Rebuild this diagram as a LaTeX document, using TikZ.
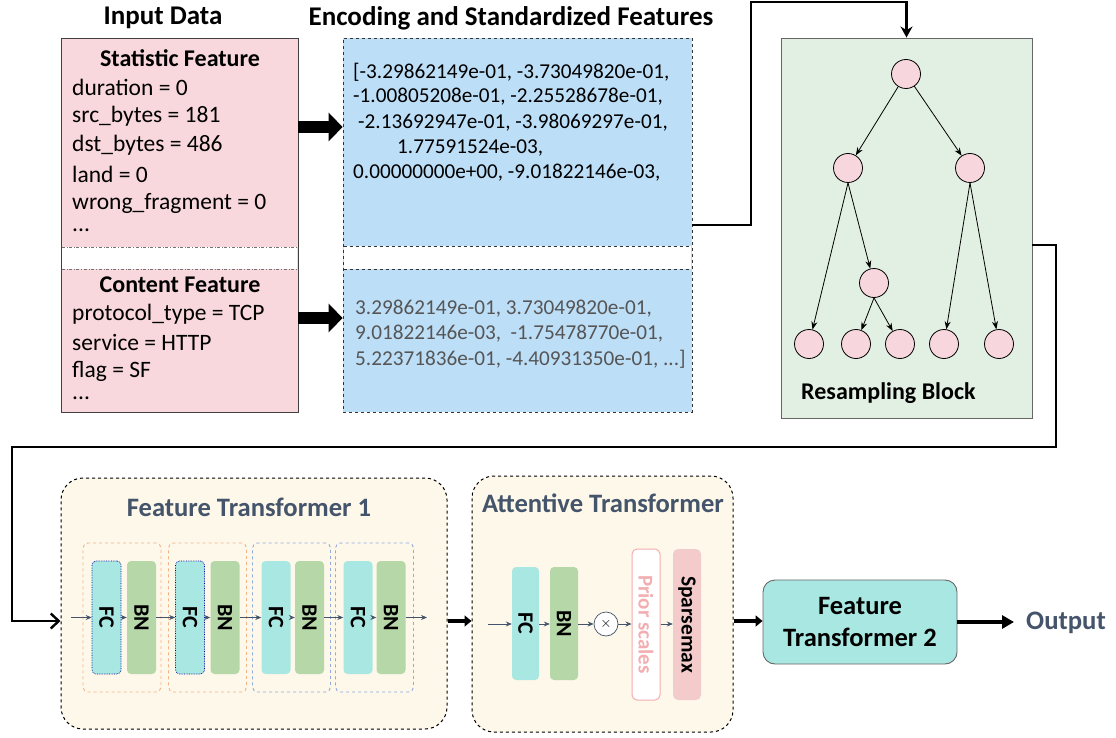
\documentclass[tikz,border=0pt]{standalone}
\usepackage{fontspec}
\setmainfont{Carlito}
\usetikzlibrary{arrows.meta,calc}
\definecolor{inpink}{HTML}{F9D8DD}
\definecolor{encblue}{HTML}{BDDEF7}
\definecolor{resgreen}{HTML}{E2F0E3}
\definecolor{treepink}{HTML}{F8D6DD}
\definecolor{cream}{HTML}{FEF8EA}
\definecolor{fcturq}{HTML}{A9E8E2}
\definecolor{bngreen}{HTML}{B6D7A8}
\definecolor{slate}{HTML}{44546A}
\definecolor{orgdash}{HTML}{F4B183}
\definecolor{bluedash}{HTML}{8FAADC}
\definecolor{priorpink}{HTML}{F2AEB0}
\definecolor{sparsepink}{HTML}{F4CBCB}
\definecolor{graytxt}{HTML}{555555}
\begin{document}
\begin{tikzpicture}[x=1pt,y=-1pt,
  heading/.style={font=\fontsize{27}{30}\selectfont\bfseries, inner sep=0pt},
  intxt/.style={font=\fontsize{23.5}{28}\selectfont, anchor=west, inner sep=0pt},
  enctxt/.style={font=\fontsize{21.2}{25}\selectfont, anchor=west, inner sep=0pt},
  subhead/.style={font=\fontsize{24}{28}\selectfont\bfseries, inner sep=0pt},
  bigbox/.style={draw=black!75, line width=0.8pt, inner sep=0pt},
  tnode/.style={circle, draw=black, line width=0.8pt, fill=treepink, minimum size=29pt, inner sep=0pt},
  tedge/.style={line width=0.8pt, -{Stealth[length=8pt,width=6pt]}},
  conn/.style={line width=2.4pt},
  blockarrow/.style={line width=12pt, -{Triangle[length=14pt,width=28pt]}},
  fatarrow/.style={line width=3.8pt, -{Triangle[length=7pt,width=11pt]}},
  tfbox/.style={draw=black, dashed, line width=1pt, rounded corners=22pt, fill=cream, inner sep=0pt},
  grp/.style={draw=#1, dashed, line width=0.9pt, rounded corners=5pt, minimum width=78pt, minimum height=149pt, inner sep=0pt},
  fcbox/.style={fill=fcturq, rounded corners=4pt, minimum width=29pt, minimum height=113pt, inner sep=0pt},
  bnbox/.style={fill=bngreen, rounded corners=4pt, minimum width=29pt, minimum height=113pt, inner sep=0pt},
  rottxt/.style={rotate=-90, font=\fontsize{22}{24}\selectfont\bfseries},
  small/.style={draw=slate, line width=0.7pt, -{Stealth[length=6pt,width=5pt]}},
  tftitle/.style={font=\fontsize{26.6}{30}\selectfont\bfseries, text=slate, inner sep=0pt}
]
\useasboundingbox (0,0) rectangle (1116,738);

% ---------------- Input data ----------------
\node[heading] (inTitle) at (163,18) {Input Data};
\node[bigbox, fill=inpink, minimum width=237pt, minimum height=374pt] (inBox) at (179.5,225) {};
\fill[white] (61.6,247) rectangle (297.4,269);
\draw[black!55, dash dot, line width=0.7pt] (61.6,247) -- (297.4,247) (61.6,269) -- (297.4,269);
\node[subhead] (statHead) at (180,58) {Statistic Feature};
\node[intxt] (l1) at (72,87) {duration = 0};
\node[intxt] (l2) at (72,116) {src\_bytes = 181};
\node[intxt] (l3) at (72,145) {dst\_bytes = 486};
\node[intxt] (l4) at (72,174) {land = 0};
\node[intxt] (l5) at (72,203) {wrong\_fragment = 0};
\node[intxt] (l6) at (72,230) {...};
\node[subhead] (contHead) at (180,285) {Content Feature};
\node[intxt] (c1) at (72,314) {protocol\_type = TCP};
\node[intxt] (c2) at (72,343) {service = HTTP};
\node[intxt] (c3) at (72,371) {flag = SF};
\node[intxt] (c4) at (72,398) {...};

% ---------------- Encoding ----------------
\node[heading] (encTitle) at (511,18) {Encoding and Standardized Features};
\node[draw=black!80, dashed, line width=0.8pt, fill=encblue, minimum width=349pt, minimum height=374pt, inner sep=0pt] (encBox) at (517.5,225) {};
\fill[white] (343.6,246) rectangle (691.4,269);
\draw[black!80, dashed, line width=0.7pt] (343.6,246) -- (691.4,246) (343.6,269) -- (691.4,269);
\node[enctxt] (e1) at (353,72) {[-3.29862149e-01, -3.73049820e-01,};
\node[enctxt] (e2) at (353,97) {-1.00805208e-01, -2.25528678e-01,};
\node[enctxt] (e3) at (358,123) {-2.13692947e-01, -3.98069297e-01,};
\node[enctxt] (e4) at (397,148) {1.77591524e-03,};
\node[enctxt] (e5) at (353,173) {0.00000000e+00, -9.01822146e-03,};
\node[enctxt, text=graytxt] (f1) at (355,309) {3.29862149e-01, 3.73049820e-01,};
\node[enctxt, text=graytxt] (f2) at (355,334) {9.01822146e-03,\ \ -1.75478770e-01,};
\node[enctxt, text=graytxt] (f3) at (355,359) {5.22371836e-01, -4.40931350e-01, ...]};

\draw[blockarrow] (inBox.east |- 0,127) -- (encBox.west |- 0,127);
\draw[blockarrow] (inBox.east |- 0,318) -- (encBox.west |- 0,318);

% ---------------- Resampling block ----------------
\node[draw=black!60, line width=0.9pt, fill=resgreen, minimum width=251pt, minimum height=380pt, inner sep=0pt] (resBox) at (906.5,228) {};
\node[tnode] (root) at (906,74) {};
\node[tnode] (a1) at (848,168) {};
\node[tnode] (a2) at (970,168) {};
\node[tnode] (mid) at (874,283) {};
\node[tnode] (k1) at (809,344) {};
\node[tnode] (k2) at (856,344) {};
\node[tnode] (k3) at (900,344) {};
\node[tnode] (k4) at (944,344) {};
\node[tnode] (k5) at (999,344) {};
\draw[tedge] (root) -- (a1);
\draw[tedge] (root) -- (a2);
\draw[tedge] (a1.south) -- (k1);
\draw[tedge] (a1.south) -- (mid);
\draw[tedge] (mid.south) -- (k2);
\draw[tedge] (mid.south) -- (k3);
\draw[tedge] (a2.south) -- (k4);
\draw[tedge] (a2.south) -- (k5);
\node[font=\fontsize{24}{28}\selectfont\bfseries, anchor=west, inner sep=0pt] (resLabel) at (801,393) {Resampling Block};

% connector encoding -> resampling
\coordinate (b1) at (751,2);
\draw[conn, -{Stealth[length=11pt,width=12pt]}] (encBox.east) -| (b1) -| (resBox.north);

% ---------------- Feature Transformer 1 ----------------
\node[tfbox, minimum width=386pt, minimum height=251pt] (ft1) at (254,603.5) {};
\node[tftitle] (ft1Title) at (249,507) {Feature Transformer 1};
\node[grp=orgdash] (g1) at (122,617.5) {};
\node[grp=orgdash] (g2) at (207.5,617.5) {};
\node[grp=bluedash] (g3) at (291.5,617.5) {};
\node[grp=bluedash] (g4) at (374.5,617.5) {};
\node[fcbox, draw=blue!60!black, densely dotted, line width=0.7pt] (fc1) at (106.5,617.5) {};
\node[bnbox] (bn1) at (141.5,617.5) {};
\node[fcbox, draw=blue!60!black, densely dotted, line width=0.7pt] (fc2) at (190,617.5) {};
\node[bnbox] (bn2) at (225,617.5) {};
\node[fcbox] (fc3) at (276,617.5) {};
\node[bnbox] (bn3) at (309.5,617.5) {};
\node[fcbox] (fc4) at (358,617.5) {};
\node[bnbox] (bn4) at (391,617.5) {};
\foreach \n in {fc1,fc2,fc3,fc4} \node[rottxt] at (\n) {FC};
\foreach \n in {bn1,bn2,bn3,bn4} \node[rottxt] at (\n) {BN};
\coordinate (ftIn) at (71,617.5);
\coordinate (ftOut) at (427,617.5);
\draw[small] (ftIn) -- (fc1);
\draw[small] (fc1) -- (bn1);
\draw[small] (bn1) -- (fc2);
\draw[small] (fc2) -- (bn2);
\draw[small] (bn2) -- (fc3);
\draw[small] (fc3) -- (bn3);
\draw[small] (bn3) -- (fc4);
\draw[small] (fc4) -- (bn4);
\draw[small] (bn4) -- (ftOut);

% ---------------- Attentive Transformer ----------------
\node[tfbox, minimum width=261pt, minimum height=256pt] (at) at (602.5,604) {};
\node[tftitle] (atTitle) at (603,503) {Attentive Transformer};
\node[fcbox, minimum width=27pt] (afc) at (525.5,623.5) {};
\node[bnbox, minimum width=28pt] (abn) at (564,623.5) {};
\node[rottxt] at (afc) {FC};
\node[rottxt] at (abn) {BN};
\node[circle, draw=slate, fill=white, line width=0.7pt, minimum size=24pt, inner sep=0pt, font=\fontsize{14}{15}\selectfont] (mul) at (606,624) {$\times$};
\node[draw=priorpink, fill=white, line width=1pt, rounded corners=5pt, minimum width=28pt, minimum height=151pt, inner sep=0pt] (prior) at (646,624.5) {};
\node[rotate=-90, text=priorpink, font=\fontsize{21}{23}\selectfont\bfseries] at (prior) {Prior scales};
\node[fill=sparsepink, rounded corners=5pt, minimum width=28pt, minimum height=151pt, inner sep=0pt] (sparse) at (687,624.5) {};
\node[rotate=-90, font=\fontsize{21.5}{23}\selectfont\bfseries] at (sparse) {Sparsemax};
\coordinate (atIn) at (488,624);
\draw[small] (atIn) -- (afc.west |- atIn);
\draw[small] (afc.east |- atIn) -- (abn.west |- atIn);
\draw[small] (abn.east |- atIn) -- (mul);
\draw[small] (mul) -- (prior.west |- atIn);
\draw[small] (prior.east |- atIn) -- (sparse.west |- atIn);

% ---------------- Feature Transformer 2 and output ----------------
\node[draw=black!60, line width=0.9pt, fill=fcturq, rounded corners=12pt, minimum width=194pt, minimum height=84pt, align=center, inner sep=0pt, font=\fontsize{26.5}{32}\selectfont\bfseries] (ft2) at (860,622) {Feature\\Transformer 2};
\node[font=\fontsize{26.7}{30}\selectfont\bfseries, text=slate, anchor=west, inner sep=0pt] (out) at (1026,623) {Output};

% connector resampling -> feature transformer 1
\coordinate (r1) at (1056,447);
\coordinate (r2) at (12,621);
\draw[conn, -{Straight Barb[length=8pt,width=15pt,line width=2.4pt]}] (resBox.east |- 0,245) -| (r1) -| (r2) -- (ft1.west |- 0,621);

\draw[fatarrow] (ft1.east |- 0,621) -- (at.west |- 0,621);
\draw[fatarrow] (at.east |- 0,621) -- (ft2.west |- 0,621);
\draw[fatarrow, -{Triangle[length=12pt,width=13pt]}, shorten >=12pt] (ft2.east |- 0,622) -- (out.west |- 0,622);
\end{tikzpicture}
\end{document}
